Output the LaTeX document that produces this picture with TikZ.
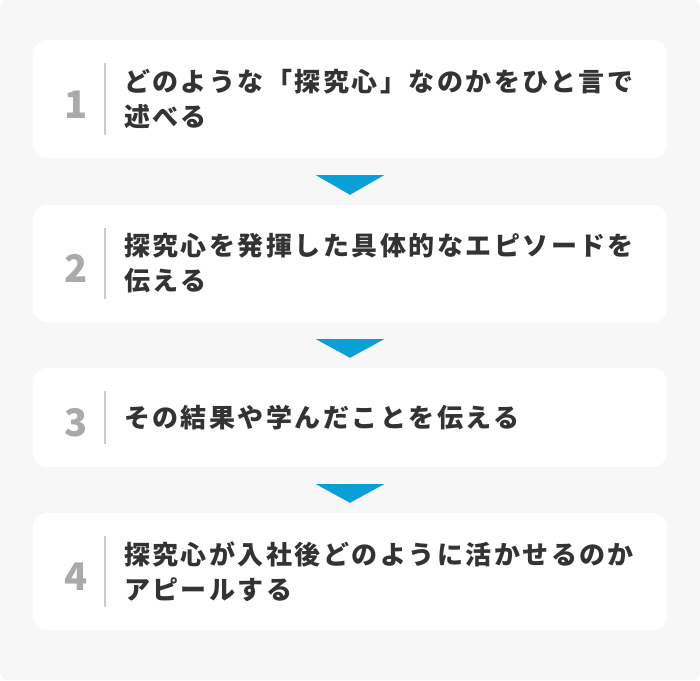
\documentclass[tikz,border=0pt]{standalone}
\usepackage{fontspec}
\setmainfont{Noto Sans CJK JP}
\newfontfamily\jpfont{Noto Sans CJK JP}[LetterSpace=9.5]
\usepackage{xcolor}
\usetikzlibrary{positioning}
\usetikzlibrary{calc}

\definecolor{bggray}{HTML}{F7F7F7}
\definecolor{textdark}{HTML}{333333}
\definecolor{numgray}{HTML}{AAAAAA}
\definecolor{linegray}{HTML}{CCCCCC}
\definecolor{arrowblue}{HTML}{0A9FD6}

\begin{document}
\begin{tikzpicture}[
    x=1pt, y=-1pt,
    % ステップの枠
    stepbox/.style={
        fill=white,
        rounded corners=14pt,
        minimum width=634pt,
        inner sep=0pt
    },
    % 番号
    stepnum/.style={
        font=\bfseries\fontsize{38}{38}\selectfont,
        text=numgray,
        inner sep=0pt
    },
    % 本文
    steptext/.style={
        font=\jpfont\bfseries\fontsize{26}{35}\selectfont,
        text=textdark,
        align=left,
        anchor=west,
        inner sep=0pt
    },
    divider/.style={draw=linegray, line width=2pt},
    down arrow/.style={fill=arrowblue}
]

% 背景
\useasboundingbox (0,0) rectangle (700,680);
\fill[bggray, rounded corners=8pt] (0,0) rectangle (700,680);

% -------------------------------
% ステップの枠・番号・区切り線
\foreach \i/\c/\h in {1/99/118, 2/263.5/117, 3/417.5/99, 4/571.5/117}
{
    \node[stepbox, minimum height=\h pt] (box-\i) at (350,\c) {};
    \node[stepnum, anchor=base] (num-\i) at ($(box-\i.west)+(43,19)$) {\i};
    \draw[divider] ($(box-\i.north west)+(72,23)$) -- ($(box-\i.south west)+(72,-23)$);
}

% -------------------------------
% 本文
\foreach \i/\txt in {
    1/{どのような「探究心」なのかをひと言で\\述べる},
    2/{探究心を発揮した具体的なエピソードを\\伝える},
    3/{その結果や学んだことを伝える},
    4/{探究心が入社後どのように活かせるのか\\アピールする}}
{
    \node[steptext] (text-\i) at ($(box-\i.west)+(91,0)$) {\txt};
}

% -------------------------------
% ステップ間の三角形
\foreach \i/\j in {1/2, 2/3, 3/4}
{
    \fill[down arrow] ($(box-\i.south)+(-34,17)$) -- ($(box-\i.south)+(34,17)$)
        -- ($(box-\j.north)+(0,-10)$) -- cycle;
}
\end{tikzpicture}
\end{document}
